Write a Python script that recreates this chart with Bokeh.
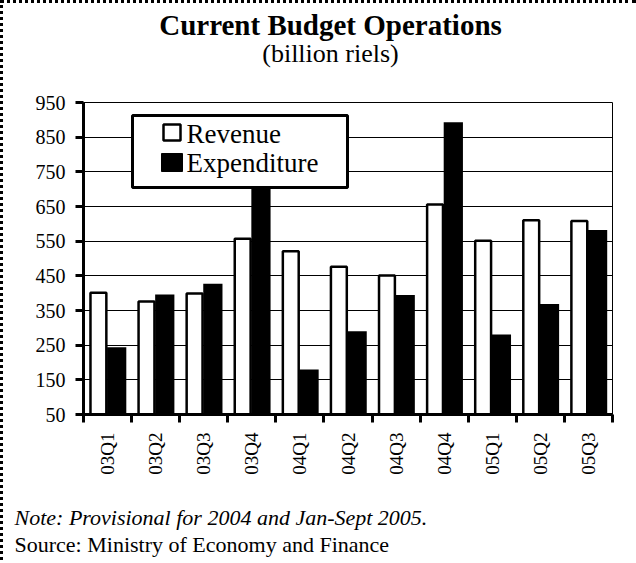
import numpy as np
from bokeh.plotting import figure
from bokeh.layouts import column
from bokeh.models import Range1d, FixedTicker, Label, ColumnDataSource, BoxAnnotation, Title
from bokeh.transform import dodge
from bokeh.embed import file_html
from bokeh.resources import INLINE

# ---- data ----
categories = ["03Q1", "03Q2", "03Q3", "03Q4", "04Q1", "04Q2", "04Q3", "04Q4", "05Q1", "05Q2", "05Q3"]
revenue = [401, 376, 399, 557, 521, 476, 451, 656, 551, 610, 608]
expenditure = [244, 396, 427, 720, 180, 290, 395, 893, 281, 369, 582]
y_ticks = [50, 150, 250, 350, 450, 550, 650, 750, 850, 950]
series_names = ["Revenue", "Expenditure"]
title_text = "Current Budget Operations"
subtitle_text = "(billion riels)"
note_text = "Note: Provisional for 2004 and Jan-Sept 2005."
source_text = "Source: Ministry of Economy and Finance"

SERIF = "Liberation Serif"
W = 633


def text_panel(height):
    f = figure(width=W, height=height, output_backend="svg", toolbar_location=None,
               title=None, x_range=Range1d(0, 1), y_range=Range1d(0, 1),
               x_axis_location=None, y_axis_location=None,
               min_border=0, min_border_left=0, min_border_right=0,
               min_border_top=0, min_border_bottom=0)
    f.grid.visible = False
    f.outline_line_color = None
    f.background_fill_color = "white"
    f.border_fill_color = "white"
    return f


def add_text(f, text, x, y, size, style="normal", align="left"):
    f.add_layout(Label(x=x, y=y, x_units="screen", y_units="screen", text=text,
                       text_font=SERIF, text_font_size=size, text_font_style=style,
                       text_color="black", text_align=align, text_baseline="middle"))


# ---- title panel (its frame is aligned with the chart frame) ----
top = text_panel(87)
add_text(top, title_text, 247, 66, "29px", style="bold", align="center")
add_text(top, subtitle_text, 247, 37, "26px", align="center")

# ---- main chart ----
idx = list(range(1, len(categories) + 1))
src = ColumnDataSource(dict(x=idx, cat=categories, rev=revenue, exp=expenditure))

p = figure(width=W, height=412, output_backend="svg", toolbar_location=None, title=None,
           x_range=Range1d(0.5, len(categories) + 0.5), y_range=Range1d(50, 950),
           min_border_left=80, min_border_right=24, min_border_top=12, min_border_bottom=88)
p.background_fill_color = "white"
p.border_fill_color = "white"
p.outline_line_color = "black"
p.outline_line_width = 1

p.xgrid.visible = False
p.ygrid.ticker = FixedTicker(ticks=y_ticks)
p.ygrid.grid_line_color = "black"
p.ygrid.grid_line_width = 1

p.yaxis.ticker = FixedTicker(ticks=y_ticks)
p.yaxis.axis_line_width = 3
p.yaxis.axis_line_color = "black"
p.yaxis.major_tick_line_width = 3
p.yaxis.major_tick_line_color = "black"
p.yaxis.major_tick_out = 8
p.yaxis.major_tick_in = 0
p.yaxis.minor_tick_line_color = None
p.yaxis.major_label_text_font = SERIF
p.yaxis.major_label_text_font_size = "20px"
p.yaxis.major_label_text_color = "black"
p.yaxis.major_label_standoff = 10

p.xaxis.ticker = FixedTicker(ticks=idx, minor_ticks=[i - 0.5 for i in idx] + [idx[-1] + 0.5])
p.xaxis.major_label_overrides = {i: c for i, c in zip(idx, categories)}
p.xaxis.major_tick_line_color = None
p.xaxis.major_tick_out = 8
p.xaxis.major_tick_in = 0
p.xaxis.minor_tick_line_color = "black"
p.xaxis.minor_tick_line_width = 3
p.xaxis.minor_tick_out = 8
p.xaxis.minor_tick_in = 0
p.xaxis.axis_line_width = 3
p.xaxis.axis_line_color = "black"
p.xaxis.major_label_orientation = np.pi / 2
p.xaxis.major_label_text_font = SERIF
p.xaxis.major_label_text_font_size = "19px"
p.xaxis.major_label_text_color = "black"
p.xaxis.major_label_standoff = 10

p.vbar(x=dodge("x", -0.19, range=p.x_range), top="rev", bottom=50, width=0.33,
       fill_color="white", line_color="black", line_width=2.5, source=src)
p.vbar(x=dodge("x", 0.19, range=p.x_range), top="exp", bottom=50, width=0.40,
       fill_color="black", line_color=None, source=src)


# legend box (screen units, relative to the plot frame)
def box(l, r, t, b, fill, lw):
    return BoxAnnotation(left=l, right=r, top=t, bottom=b,
                         left_units="screen", right_units="screen",
                         top_units="screen", bottom_units="screen",
                         fill_color=fill, fill_alpha=1.0,
                         line_color="black", line_width=lw, line_alpha=1.0)


p.add_layout(box(49, 264, 299, 227, "white", 3))
p.add_layout(box(80, 97, 290, 274, "white", 2.5))
p.add_layout(box(78, 99, 261, 243, "black", 1))
for name, yc in zip(series_names, [281, 252]):
    add_text(p, name, 103, yc, "27px")

# ---- footer panel (titles are not clipped to the frame) ----
bottom = text_panel(58)
bottom.add_layout(Title(text=source_text, align="left", offset=-69, standoff=0,
                        vertical_align="bottom", text_font=SERIF, text_font_size="22px",
                        text_font_style="normal", text_color="black"), "above")
bottom.add_layout(Title(text=note_text, align="left", offset=-69, standoff=0,
                        vertical_align="bottom", text_font=SERIF, text_font_size="22px",
                        text_font_style="italic", text_color="black"), "above")

layout = column(top, p, bottom, spacing=0,
                styles={"border-top": "3px dotted #000", "border-left": "3px dotted #000"})

open("out.html", "w").write(file_html(layout, INLINE))
